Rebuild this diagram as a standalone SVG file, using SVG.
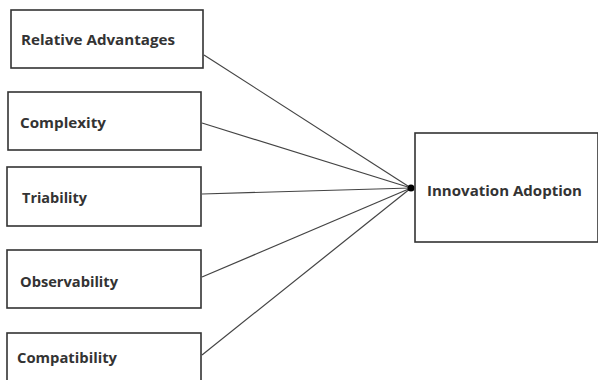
<svg xmlns="http://www.w3.org/2000/svg" width="598" height="380" viewBox="0 0 598 380">
<style>
.box{fill:#fff;stroke:#333;stroke-width:1.6}
.t{font-family:"Open Sans","Liberation Sans",Arial,sans-serif;font-weight:bold;font-size:14px;fill:#333;dominant-baseline:central}
.c{stroke:#444;stroke-width:1.2;fill:none}
</style>
<rect width="598" height="380" fill="#fff"/>
<g id="connectors">
<line class="c" x1="204" y1="55" x2="411" y2="188"/>
<line class="c" x1="202" y1="123" x2="411" y2="188"/>
<line class="c" x1="202" y1="194" x2="411" y2="188"/>
<line class="c" x1="202" y1="277" x2="411" y2="188"/>
<line class="c" x1="202" y1="355" x2="411" y2="188"/>
<circle cx="411" cy="188" r="3.5" fill="#000"/>
</g>
<g id="relative-advantages"><rect class="box" x="11" y="10" width="192" height="58"/><text class="t" x="21" y="39" textLength="154" lengthAdjust="spacingAndGlyphs">Relative Advantages</text></g>
<g id="complexity"><rect class="box" x="8" y="92" width="193" height="58"/><text class="t" x="20" y="122" textLength="86" lengthAdjust="spacingAndGlyphs">Complexity</text></g>
<g id="triability"><rect class="box" x="7" y="167" width="194" height="59"/><text class="t" x="22" y="197" textLength="65" lengthAdjust="spacingAndGlyphs">Triability</text></g>
<g id="observability"><rect class="box" x="7" y="250" width="194" height="58"/><text class="t" x="20" y="281" textLength="98" lengthAdjust="spacingAndGlyphs">Observability</text></g>
<g id="compatibility"><rect class="box" x="7" y="333" width="194" height="60"/><text class="t" x="17" y="357" textLength="100" lengthAdjust="spacingAndGlyphs">Compatibility</text></g>
<g id="innovation-adoption"><rect class="box" x="415" y="133" width="183" height="109"/><text class="t" x="427" y="190" textLength="155" lengthAdjust="spacingAndGlyphs">Innovation Adoption</text></g>
</svg>
